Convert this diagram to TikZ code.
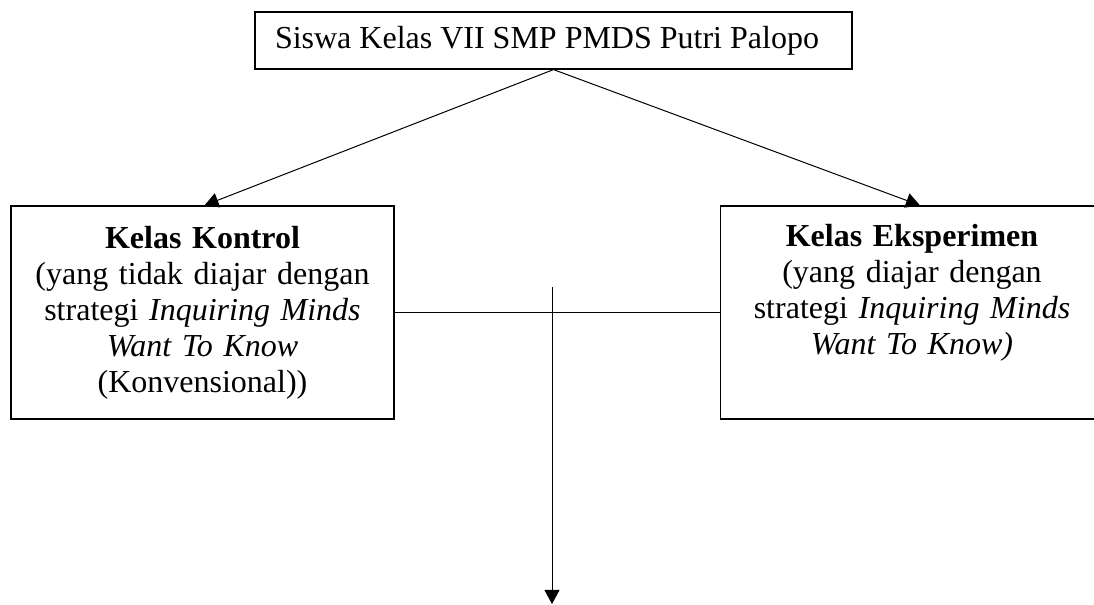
\documentclass[tikz,border=0pt]{standalone}
\usepackage{fontspec}
\setmainfont{Liberation Serif}
\usetikzlibrary{arrows.meta}

\tikzset{
  kotak/.style={draw, line width=0.6pt, inner sep=2pt, align=center, text width=170pt,
    minimum width=191.5pt, minimum height=106.5pt, font=\fontsize{16}{18}\selectfont},
  judul/.style={draw, line width=0.6pt, inner xsep=10pt, minimum width=298.5pt,
    minimum height=28.5pt, font=\fontsize{16}{18}\selectfont},
  panah/.style={line width=0.5pt, -{Triangle[length=7pt,width=7.5pt]}},
  garis/.style={line width=0.5pt}
}

\begin{document}
\begin{tikzpicture}[x=0.5pt,y=0.5pt]
    \useasboundingbox (0,0) rectangle (1094,605);

    \node [judul] (siswa) at (553.5,564.5) {\makebox[278.5pt][l]{Siswa Kelas VII SMP PMDS Putri Palopo}};
    \node [kotak] (kontrol) at (202.5,292.5) {\textbf{Kelas Kontrol}\\(yang tidak diajar dengan\\strategi \textit{Inquiring Minds}\\\textit{Want To Know}\\(Konvensional))};
    \node [kotak] (eksperimen) at (912,292.5) {\textbf{Kelas Eksperimen}\\(yang diajar dengan\\strategi \textit{Inquiring Minds}\\\textit{Want To Know)}\\\strut};

    \coordinate (atas) at (552,318);
    \coordinate (bawah) at (552,1);

    \draw [panah] (siswa.south) -- ([xshift=1pt]kontrol.north);
    \draw [panah] (siswa.south) -- ([xshift=4pt]eksperimen.north);
    \draw [garis] (kontrol.east) -- (eksperimen.west);
    \draw [panah] (atas) -- (bawah);
\end{tikzpicture}
\end{document}
